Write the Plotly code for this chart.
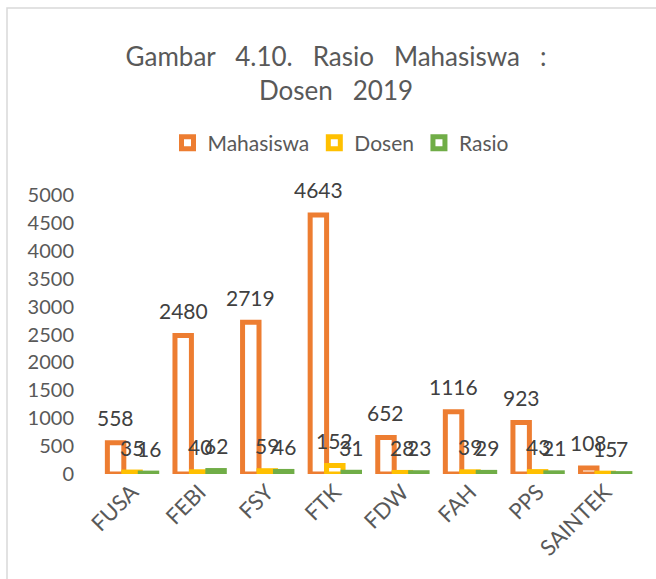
import plotly.graph_objects as go

categories = ["FUSA", "FEBI", "FSY", "FTK", "FDW", "FAH", "PPS", "SAINTEK"]
mahasiswa = [558, 2480, 2719, 4643, 652, 1116, 923, 108]
dosen = [35, 40, 59, 152, 28, 39, 43, 15]
rasio = [16, 62, 46, 31, 23, 29, 21, 7]
series_names = ["Mahasiswa", "Dosen", "Rasio"]
colors = ["#ED7D31", "#FFC000", "#70AD47"]

FONT = "Lato"
W, H = 656, 579
L, R, T, B = 95, 17, 195, 105
pw, ph = W - L - R, H - T - B
BARGAP = 0.27
bar_px = pw / len(categories) * (1 - BARGAP) / 3

fig = go.Figure()
annotations = []
for k, (name, vals, col) in enumerate(zip(series_names, [mahasiswa, dosen, rasio], colors)):
    fig.add_trace(go.Bar(
        x=categories, y=vals, name=name,
        marker=dict(color="white", line=dict(color=col, width=5)),
    ))
    for c, v in zip(categories, vals):
        annotations.append(dict(
            x=c, y=v, xref="x", yref="y", text=str(v), showarrow=False,
            xshift=(k - 1) * bar_px, yshift=25, yanchor="middle", xanchor="center",
            font=dict(family=FONT, size=21, color="#404040"),
        ))

fig.update_layout(
    width=W, height=H,
    margin=dict(l=L, r=R, t=T, b=B),
    paper_bgcolor="white", plot_bgcolor="white",
    barmode="group", bargap=BARGAP, bargroupgap=0,
    font=dict(family=FONT, color="#595959"),
    title=dict(
        text="Gambar\u00a0\u00a0\u00a04.10.\u00a0\u00a0\u00a0Rasio\u00a0\u00a0\u00a0Mahasiswa\u00a0\u00a0\u00a0:<br>Dosen\u00a0\u00a0\u00a02019",
        x=336 / W, xanchor="center", xref="container",
        y=1 - 66 / H, yanchor="middle", yref="container",
        font=dict(family=FONT, size=26, color="#595959"),
    ),
    legend=dict(
        orientation="h", x=(341 - L) / pw, xanchor="center",
        y=(H - B - 143) / ph, yanchor="middle",
        font=dict(family=FONT, size=21, color="#595959"),
        itemwidth=30, tracegroupgap=0,
    ),
    xaxis=dict(showline=False, showgrid=False, zeroline=False, ticks="",
               tickangle=-45, tickfont=dict(family=FONT, size=22, color="#595959")),
    yaxis=dict(range=[0, 5000], dtick=500, showline=False, showgrid=False,
               zeroline=False, ticks="", ticklabelstandoff=20,
               tickfont=dict(family=FONT, size=20, color="#595959")),
    annotations=annotations,
    shapes=[dict(type="rect", xref="paper", yref="paper",
                 x0=(7 - L) / pw, x1=(W + 50 - L) / pw,
                 y0=(H - B - (H + 50)) / ph, y1=(H - B - 8) / ph,
                 line=dict(color="#D9D9D9", width=1.5), fillcolor="rgba(0,0,0,0)",
                 layer="below")],
)

fig.write_html("out.html", config={"displayModeBar": False},
               post_script="document.body.style.margin='0';")
